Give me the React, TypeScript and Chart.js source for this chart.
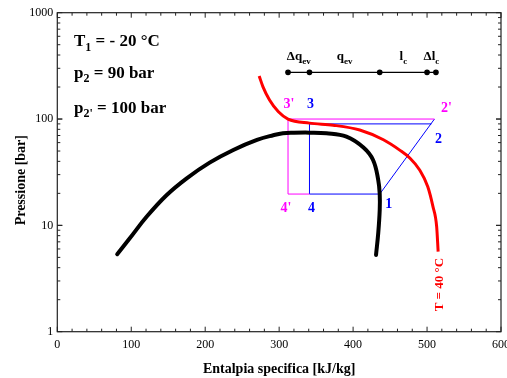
import React, { useEffect, useRef } from "react";
import { Chart, registerables } from "chart.js";

Chart.register(...registerables);

// Saturation dome (specific enthalpy kJ/kg, pressure bar)
const domeH = [81, 98, 121, 148, 175, 206, 238, 270, 292, 305, 320, 341, 364, 391, 414, 427, 434, 436, 436, 434, 431];
const domeP = [5.35, 7.56, 12.1, 19.3, 27.7, 38.9, 51.2, 63.6, 70.4, 73.5, 74.3, 74.5, 73.5, 68.3, 54, 41.2, 26.7, 19.7, 14, 8.48, 5.27];

// Isotherm T = 40 °C
const isoH = [273, 278, 287, 299, 312, 341, 373, 409, 441, 463, 477, 490, 501, 508, 513, 515];
const isoP = [254, 202, 151, 117, 100, 91.5, 87.5, 78.9, 63.8, 51, 42.8, 33.2, 23.1, 15, 9.72, 5.66];

// Cycle with p2' = 100 bar (magenta): 4 -> 4' -> 3' -> 2'
const cyclePrimeH = [341, 312, 312, 510];
const cyclePrimeP = [19.7, 19.7, 100, 100];

// Cycle with p2 = 90 bar (blue): 2' -> 1 -> 4 -> 3 -> 2
const cycleH = [510, 436, 341, 341, 506];
const cycleP = [100, 19.7, 19.7, 90, 90];

// Energy bar at the top
const barH = [312, 341, 436, 500, 512];
const barP = [275, 275, 275, 275, 275];
const barMain = ["\u0394q", "q", "l", "\u0394l"];
const barSub = ["ev", "ev", "c", "c"];

const xTickValues = [0, 100, 200, 300, 400, 500, 600];
const yTickValues = [1, 10, 100, 1000];

const SERIF = "'Liberation Serif', 'Times New Roman', serif";

type Seg = { t: string; sub?: boolean };

function drawRich(ctx: CanvasRenderingContext2D, segs: Seg[], x: number, y: number, size: number, align: "left" | "center") {
  const subSize = Math.round(size * 0.68);
  let total = 0;
  const widths = segs.map((s) => {
    ctx.font = `bold ${s.sub ? subSize : size}px ${SERIF}`;
    const w = ctx.measureText(s.t).width;
    total += w;
    return w;
  });
  let cx = align === "center" ? x - total / 2 : x;
  ctx.textAlign = "left";
  ctx.textBaseline = "alphabetic";
  segs.forEach((s, i) => {
    ctx.font = `bold ${s.sub ? subSize : size}px ${SERIF}`;
    ctx.fillText(s.t, cx, s.sub ? y + size * 0.28 : y);
    cx += widths[i];
  });
}

const pts = (h: number[], p: number[]) => h.map((v, i) => ({ x: v, y: p[i] }));

const decorPlugin = {
  id: "decor",
  afterDraw(chart: any) {
    const ctx: CanvasRenderingContext2D = chart.ctx;
    const xs = chart.scales.x;
    const ys = chart.scales.y;
    const { left, right, top, bottom } = chart.chartArea;
    ctx.save();
    // frame
    ctx.strokeStyle = "#222";
    ctx.lineWidth = 1.2;
    ctx.strokeRect(left, top, right - left, bottom - top);
    // x ticks (inward, both sides)
    ctx.lineWidth = 1;
    ctx.beginPath();
    for (let v = 0; v <= 600; v += 20) {
      const px = xs.getPixelForValue(v);
      const len = v % 100 === 0 ? 5 : 3;
      ctx.moveTo(px, bottom);
      ctx.lineTo(px, bottom - len);
      ctx.moveTo(px, top);
      ctx.lineTo(px, top + len);
    }
    // y ticks (log)
    for (let d = 1; d < 1000; d *= 10) {
      for (let m = 1; m <= 10; m++) {
        const v = d * m;
        const py = ys.getPixelForValue(v);
        const len = m === 1 || m === 10 ? 5 : 3;
        ctx.moveTo(left, py);
        ctx.lineTo(left + len, py);
        ctx.moveTo(right, py);
        ctx.lineTo(right - len, py);
      }
    }
    ctx.stroke();

    ctx.fillStyle = "#000";
    // axis titles
    ctx.font = `bold 14px ${SERIF}`;
    ctx.textAlign = "center";
    ctx.textBaseline = "middle";
    ctx.fillText("Entalpia specifica [kJ/kg]", (left + right) / 2, 369);
    ctx.save();
    ctx.translate(21, (top + bottom) / 2 + 8);
    ctx.rotate(-Math.PI / 2);
    ctx.fillText("Pressione [bar]", 0, 0);
    ctx.restore();

    // info text
    drawRich(ctx, [{ t: "T" }, { t: "1", sub: true }, { t: " = - 20 \u00B0C" }], 74, 46, 17, "left");
    drawRich(ctx, [{ t: "p" }, { t: "2", sub: true }, { t: " = 90 bar" }], 74, 77.5, 17, "left");
    drawRich(ctx, [{ t: "p" }, { t: "2'", sub: true }, { t: " = 100 bar" }], 74, 112.5, 17, "left");

    // bar labels
    for (let i = 0; i < barMain.length; i++) {
      const mid = (xs.getPixelForValue(barH[i]) + xs.getPixelForValue(barH[i + 1])) / 2;
      drawRich(ctx, [{ t: barMain[i] }, { t: barSub[i], sub: true }], mid, 60, 13, "center");
    }

    // point labels
    const lab = (txt: string, color: string, h: number, p: number, dx: number, dy: number) => {
      ctx.fillStyle = color;
      ctx.font = `bold 14px ${SERIF}`;
      ctx.textAlign = "center";
      ctx.textBaseline = "alphabetic";
      ctx.fillText(txt, xs.getPixelForValue(h) + dx, ys.getPixelForValue(p) + dy);
    };
    const MAG = "#ff00ff";
    const BLUE = "#0000ff";
    lab("3'", MAG, cyclePrimeH[2], cyclePrimeP[2], 1, -11);
    lab("3", BLUE, cycleH[3], cyclePrimeP[2], 1, -11);
    lab("2'", MAG, cyclePrimeH[3], cyclePrimeP[3], 12, -7);
    lab("2", BLUE, cycleH[4], cycleP[4], 7, 19);
    lab("1", BLUE, cycleH[1], cycleP[1], 9, 14);
    lab("4'", MAG, cyclePrimeH[1], cyclePrimeP[1], -2, 18);
    lab("4", BLUE, cycleH[2], cycleP[2], 2, 18);

    // isotherm label
    ctx.save();
    ctx.fillStyle = "#ff0000";
    ctx.font = `bold 13px ${SERIF}`;
    ctx.translate(xs.getPixelForValue(isoH[isoH.length - 1]) + 1, ys.getPixelForValue(isoP[isoP.length - 1]) + 33);
    ctx.rotate(-Math.PI / 2);
    ctx.textAlign = "center";
    ctx.textBaseline = "middle";
    ctx.fillText("T = 40 \u00B0C", 0, 0);
    ctx.restore();

    ctx.restore();
  },
};

export default function App() {
  const ref = useRef<HTMLCanvasElement | null>(null);

  useEffect(() => {
    if (!ref.current) return;
    const chart = new Chart(ref.current, {
      type: "scatter",
      data: {
        datasets: [
          {
            data: pts(domeH, domeP),
            showLine: true,
            borderColor: "#000",
            borderWidth: 4,
            pointRadius: 0,
            tension: 0.4,
            borderCapStyle: "round",
          },
          {
            data: pts(isoH, isoP),
            showLine: true,
            borderColor: "#ff0000",
            borderWidth: 3,
            pointRadius: 0,
            cubicInterpolationMode: "monotone",
          },
          {
            data: pts(cyclePrimeH, cyclePrimeP),
            showLine: true,
            borderColor: "#ff00ff",
            borderWidth: 1,
            pointRadius: 0,
            tension: 0,
          },
          {
            data: pts(cycleH, cycleP),
            showLine: true,
            borderColor: "#0000ff",
            borderWidth: 1,
            pointRadius: 0,
            tension: 0,
          },
          {
            data: pts(barH, barP),
            showLine: true,
            borderColor: "#000",
            borderWidth: 1.3,
            pointRadius: 2.2,
            pointBackgroundColor: "#000",
            pointBorderColor: "#000",
            tension: 0,
          },
        ] as any,
      },
      options: {
        responsive: false,
        animation: false,
        devicePixelRatio: 1,
        layout: { padding: { top: 12.7, right: 6, left: 0, bottom: 0 } },
        plugins: { legend: { display: false }, tooltip: { enabled: false } },
        scales: {
          x: {
            type: "linear",
            min: 0,
            max: 600,
            afterBuildTicks: (s: any) => {
              s.ticks = xTickValues.map((v) => ({ value: v }));
            },
            ticks: {
              font: { family: SERIF, size: 12 },
              color: "#000",
              padding: 6,
              maxRotation: 0,
              autoSkip: false,
              callback: (v: any) => String(v),
            },
            grid: { display: false, drawTicks: false },
            border: { display: false },
            afterFit: (s: any) => {
              s.height = 46.3;
              s.paddingLeft = 0;
              s.paddingRight = 0;
            },
          },
          y: {
            type: "logarithmic",
            min: 1,
            max: 1000,
            afterBuildTicks: (s: any) => {
              s.ticks = yTickValues.map((v) => ({ value: v }));
            },
            ticks: {
              font: { family: SERIF, size: 12 },
              color: "#000",
              padding: 4,
              autoSkip: false,
              callback: (v: any) => String(v),
            },
            grid: { display: false, drawTicks: false },
            border: { display: false },
            afterFit: (s: any) => {
              s.width = 57.3;
              s.paddingTop = 0;
              s.paddingBottom = 0;
            },
          },
        },
      } as any,
      plugins: [decorPlugin],
    });
    return () => chart.destroy();
  }, []);

  return (
    <div style={{ position: "absolute", left: 0, top: 0, width: 507, height: 378, background: "#fff" }}>
      <canvas ref={ref} width={507} height={378} style={{ display: "block" }} />
    </div>
  );
}
